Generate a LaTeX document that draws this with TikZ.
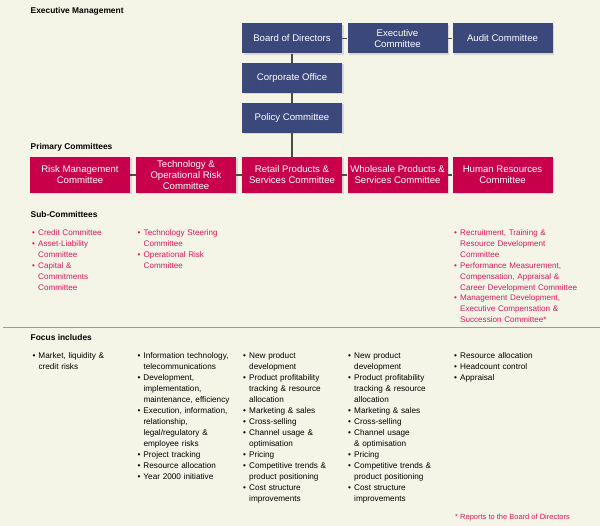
\documentclass[tikz,border=0pt]{standalone}
\usepackage{fontspec}
\setmainfont{Liberation Sans}
\usetikzlibrary{shadows}

\definecolor{paper}{HTML}{F5F5E7}
\definecolor{execblue}{HTML}{3B487C}
\definecolor{primred}{HTML}{C8004B}
\definecolor{subpink}{HTML}{D81A5F}
\definecolor{linkgray}{HTML}{4A4A4A}

\newcommand{\itm}{\par\hangindent=6pt\hangafter=1\noindent\makebox[6pt][l]{\textbullet}}

\begin{document}
\begin{tikzpicture}[x=1pt,y=-1pt,
  box/.style={text=white,minimum width=100pt,align=center,inner sep=1pt,
    font=\fontsize{9.6pt}{11pt}\selectfont,
    drop shadow={shadow xshift=1.5pt,shadow yshift=-1.5pt,fill=black!16,opacity=1}},
  execbox/.style={box,fill=execblue,minimum height=30pt},
  primbox/.style={box,fill=primred,minimum height=36pt},
  heading/.style={anchor=base west,inner sep=0pt,font=\fontsize{8.4pt}{10pt}\selectfont\bfseries},
  listtext/.style={anchor=north west,inner sep=0pt,text width=130pt,align=left,
    font=\fontsize{8.2pt}{11pt}\selectfont},
  sublist/.style={listtext,text=subpink,font=\fontsize{8.1pt}{10.9pt}\selectfont},
  link/.style={draw=linkgray,line width=1.1pt}]
\fill [paper] (0, 0) rectangle (600, 526);
\useasboundingbox (0, 0) rectangle (600, 526);

% headings
\node (hexec) at (30.5, 14) [heading] {Executive Management};
\node (hprim) at (30.5, 150) [heading] {Primary Committees};
\node (hsub) at (30.5, 218) [heading] {Sub-Committees};
\node (hfocus) at (30.5, 341) [heading] {Focus includes};

% executive management
\node (bod) at (292, 38.5) [execbox] {Board of Directors};
\node (excom) at (397.5, 38.5) [execbox] {Executive\\Committee};
\node (audit) at (502.5, 38.5) [execbox] {Audit Committee};
\node (corp) at (292, 78) [execbox] {Corporate Office};
\node (policy) at (292, 118) [execbox] {Policy Committee};

% primary committees
\node (risk) at (80, 175) [primbox] {Risk Management\\Committee};
\node (tech) at (186, 175) [primbox] {Technology \&\\Operational Risk\\Committee};
\node (retail) at (292, 175) [primbox] {Retail Products \&\\Services Committee};
\node (whole) at (397.5, 175) [primbox] {Wholesale Products \&\\Services Committee};
\node (hr) at (502.5, 175) [primbox] {Human Resources\\Committee};

\draw [link] (bod.east) -- (excom.west);
\draw [link] (excom.east) -- (audit.west);
\draw [link] (bod.south) -- (corp.north);
\draw [link] (corp.south) -- (policy.north);
\draw [link] (policy.south) -- (retail.north);
\draw [link] (risk.east) -- (tech.west);
\draw [link] (tech.east) -- (retail.west);
\draw [link] (retail.east) -- (whole.west);
\draw [link] (whole.east) -- (hr.west);

% sub-committees
\node (subrisk) at (32, 224.5) [sublist] {\itm Credit Committee
  \itm Asset-Liability\newline Committee
  \itm Capital \&\newline Commitments\newline Committee\par};
\node (subtech) at (137.5, 224.5) [sublist] {\itm Technology Steering\newline Committee
  \itm Operational Risk\newline Committee\par};
\node (subhr) at (454, 224.5) [sublist] {\itm Recruitment, Training \&\newline Resource Development\newline Committee
  \itm Performance Measurement,\newline Compensation, Appraisal \&\newline Career Development Committee
  \itm Management Development,\newline Executive Compensation \&\newline Succession Committee*\par};

\draw [black!40, line width=0.9pt] (3, 327.5) -- (600, 327.5);

% focus includes
\node (focrisk) at (32.3, 347) [listtext] {\itm Market, liquidity \&\newline credit risks\par};
\node (foctech) at (137.3, 347) [listtext] {\itm Information technology,\newline telecommunications
  \itm Development,\newline implementation,\newline maintenance, efficiency
  \itm Execution, information,\newline relationship,\newline legal/regulatory \&\newline employee risks
  \itm Project tracking
  \itm Resource allocation
  \itm Year 2000 initiative\par};
\node (focretail) at (243, 347) [listtext] {\itm New product\newline development
  \itm Product profitability\newline tracking \& resource\newline allocation
  \itm Marketing \& sales
  \itm Cross-selling
  \itm Channel usage \&\newline optimisation
  \itm Pricing
  \itm Competitive trends \&\newline product positioning
  \itm Cost structure\newline improvements\par};
\node (focwhole) at (348, 347) [listtext] {\itm New product\newline development
  \itm Product profitability\newline tracking \& resource\newline allocation
  \itm Marketing \& sales
  \itm Cross-selling
  \itm Channel usage\newline \& optimisation
  \itm Pricing
  \itm Competitive trends \&\newline product positioning
  \itm Cost structure\newline improvements\par};
\node (fochr) at (454, 347) [listtext] {\itm Resource allocation
  \itm Headcount control
  \itm Appraisal\par};

\node (note) at (455, 519.5) [anchor=base west,inner sep=0pt,text=subpink,
  font=\fontsize{7.5pt}{9pt}\selectfont] {* Reports to the Board of Directors};
\end{tikzpicture}
\end{document}
